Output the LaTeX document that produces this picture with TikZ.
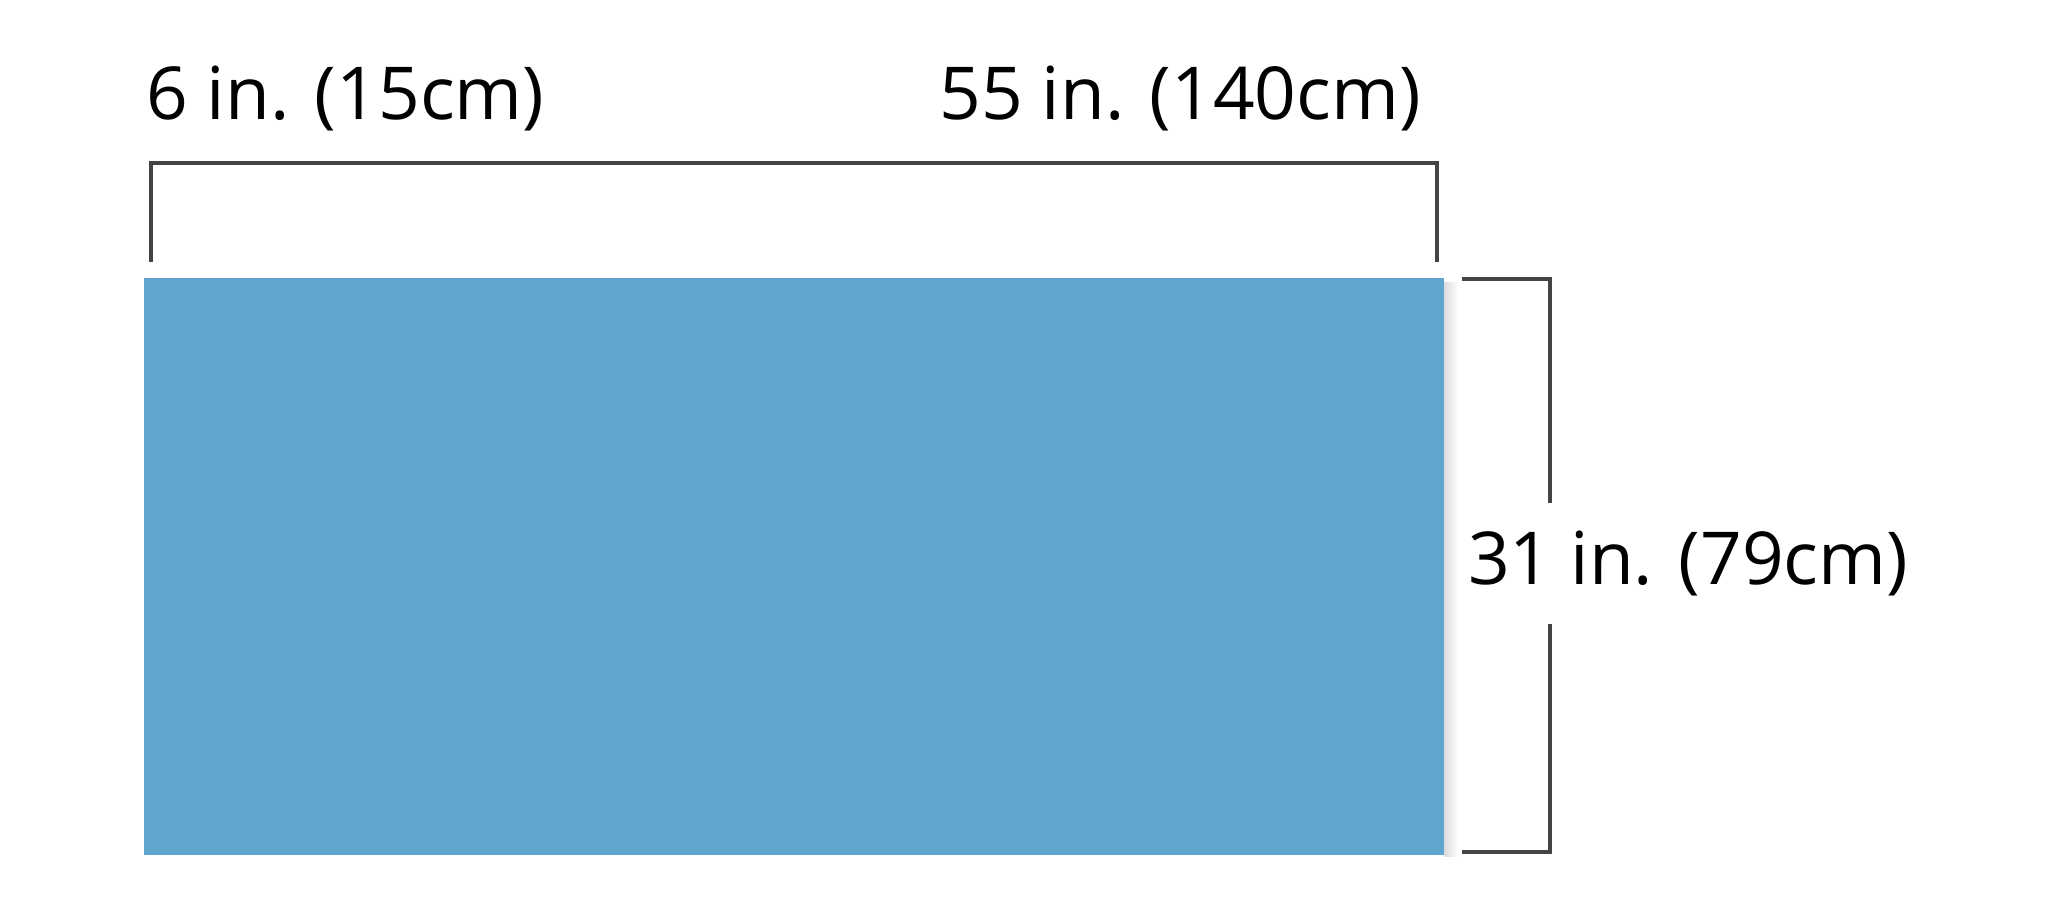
\documentclass[tikz,border=0pt]{standalone}
\usepackage{fontspec}
\setmainfont{Open Sans}
\definecolor{pad}{RGB}{96,165,206}
\definecolor{brk}{RGB}{68,68,68}
\begin{document}
\begin{tikzpicture}[x=1pt,y=-1pt,
  dimtext/.style={inner sep=0pt,font=\fontsize{73}{80}\selectfont,text=black},
  bracket/.style={draw=brk,line width=3.5pt,line join=miter}]
\useasboundingbox (0,0) rectangle (2048,920);
\fill[white] (0,0) rectangle (2048,920);
% soft shadow on the right edge
\shade[left color=black!14,right color=white] (1444,282) rectangle (1458,856);
\fill[pad] (144,278) rectangle (1444,855);
\coordinate (pad) at (144,278);
\node[dimtext,anchor=base west] (w1) at (146,120) {6 in. (15cm)};
\node[dimtext,anchor=base east] (w2) at (1421,120) {55 in. (140cm)};
\node[dimtext,anchor=base west] (h1) at (1468,584) {31 in. (79cm)};
\coordinate (tl) at (151,262);
\coordinate (tr) at (1437,262);
\draw[bracket] (tl) -- (151,163) -- (1437,163) -- (tr);
\coordinate (rt) at (1462,279);
\coordinate (rb) at (1462,852);
\draw[bracket] (rt) -- (1550,279) -- (1550,503);
\draw[bracket] (1550,624) -- (1550,852) -- (rb);
\end{tikzpicture}
\end{document}
